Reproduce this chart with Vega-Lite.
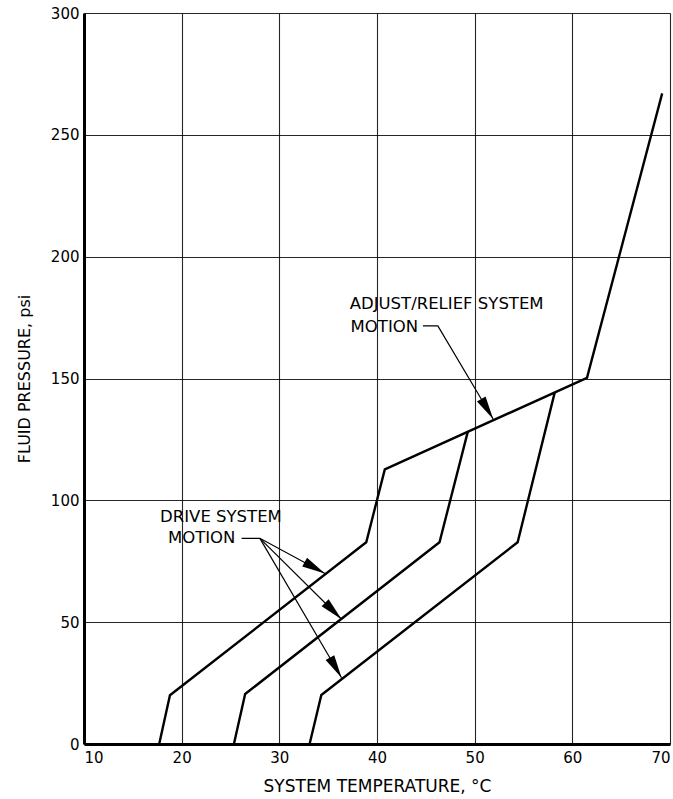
{
  "$schema": "https://vega.github.io/schema/vega-lite/v6.json",
  "width": 586,
  "height": 731,
  "autosize": "none",
  "padding": {"left": 84, "top": 13, "right": 3, "bottom": 55},
  "background": "white",
  "config": {"view": {"stroke": null}, "font": "DejaVu Sans"},
  "datasets": {
    "curves": [
      {"series": "c1", "ord": 1, "temp": 17.7, "psi": 0},
      {"series": "c1", "ord": 2, "temp": 18.8, "psi": 20},
      {"series": "c1", "ord": 3, "temp": 38.9, "psi": 82.8},
      {"series": "c1", "ord": 4, "temp": 40.8, "psi": 112.7},
      {"series": "c1", "ord": 5, "temp": 61.5, "psi": 150.3},
      {"series": "c1", "ord": 6, "temp": 69.2, "psi": 267},
      {"series": "c2", "ord": 1, "temp": 25.35, "psi": 0},
      {"series": "c2", "ord": 2, "temp": 26.5, "psi": 20.5},
      {"series": "c2", "ord": 3, "temp": 46.4, "psi": 82.8},
      {"series": "c2", "ord": 4, "temp": 49.3, "psi": 128.2},
      {"series": "c3", "ord": 1, "temp": 33.1, "psi": 0},
      {"series": "c3", "ord": 2, "temp": 34.3, "psi": 20.1},
      {"series": "c3", "ord": 3, "temp": 54.4, "psi": 82.8},
      {"series": "c3", "ord": 4, "temp": 58.2, "psi": 144.3}
    ],
    "leaders": [
      {"series": "d1", "ord": 1, "temp": 26.14, "psi": 84.4},
      {"series": "d1", "ord": 2, "temp": 28.01, "psi": 84.4},
      {"series": "d1", "ord": 3, "temp": 34.67, "psi": 70.0},
      {"series": "d2", "ord": 1, "temp": 28.01, "psi": 84.4},
      {"series": "d2", "ord": 2, "temp": 36.37, "psi": 51.2},
      {"series": "d3", "ord": 1, "temp": 28.01, "psi": 84.4},
      {"series": "d3", "ord": 2, "temp": 36.37, "psi": 27.2},
      {"series": "a1", "ord": 1, "temp": 44.7, "psi": 171.6},
      {"series": "a1", "ord": 2, "temp": 46.23, "psi": 171.6},
      {"series": "a1", "ord": 3, "temp": 51.89, "psi": 133.4}
    ],
    "labels": [
      {"text": "DRIVE SYSTEM", "temp": 24.02, "psi": 93.0},
      {"text": "MOTION", "temp": 22.05, "psi": 84.6},
      {"text": "ADJUST/RELIEF SYSTEM", "temp": 47.13, "psi": 180.6},
      {"text": "MOTION", "temp": 40.75, "psi": 171.2}
    ]
  },
  "encoding": {
    "x": {
      "field": "temp", "type": "quantitative",
      "scale": {"domain": [10, 70], "nice": false, "zero": false},
      "axis": {
        "title": "SYSTEM TEMPERATURE, °C",
        "values": [10, 20, 30, 40, 50, 60, 70],
        "grid": true, "gridColor": "black", "gridWidth": 1.1, "gridOpacity": 0.85,
        "domainColor": "black", "domainWidth": 3,
        "ticks": false, "labelPadding": 6,
        "labelFontSize": 15, "labelColor": "black",
        "titleFontSize": 17, "titleFontWeight": "normal", "titleColor": "black", "titlePadding": 13
      }
    },
    "y": {
      "field": "psi", "type": "quantitative",
      "scale": {"domain": [0, 300], "nice": false},
      "axis": {
        "title": "FLUID PRESSURE, psi",
        "values": [0, 50, 100, 150, 200, 250, 300],
        "grid": true, "gridColor": "black", "gridWidth": 1.1, "gridOpacity": 0.85,
        "domainColor": "black", "domainWidth": 3,
        "ticks": false, "labelPadding": 5,
        "labelFontSize": 15, "labelColor": "black",
        "titleFontSize": 16, "titleFontWeight": "normal", "titleColor": "black", "titlePadding": 18
      }
    }
  },
  "layer": [
    {
      "data": {"name": "curves"},
      "mark": {"type": "line", "color": "black", "strokeWidth": 2.4},
      "encoding": {"detail": {"field": "series"}, "order": {"field": "ord"}}
    },
    {
      "data": {"name": "leaders"},
      "mark": {"type": "line", "color": "black", "strokeWidth": 1.2},
      "encoding": {"detail": {"field": "series"}, "order": {"field": "ord"}}
    },
    {
      "data": {"values": [{"temp": 34.67, "psi": 70.0}]},
      "mark": {"type": "point", "shape": "M0,0 L-0.3,1.4 L0.3,1.4 Z", "filled": true, "color": "black", "opacity": 1, "size": 1100, "angle": 119}
    },
    {
      "data": {"values": [{"temp": 36.37, "psi": 51.2}]},
      "mark": {"type": "point", "shape": "M0,0 L-0.3,1.4 L0.3,1.4 Z", "filled": true, "color": "black", "opacity": 1, "size": 1100, "angle": 135}
    },
    {
      "data": {"values": [{"temp": 36.37, "psi": 27.2}]},
      "mark": {"type": "point", "shape": "M0,0 L-0.3,1.4 L0.3,1.4 Z", "filled": true, "color": "black", "opacity": 1, "size": 1100, "angle": 150}
    },
    {
      "data": {"values": [{"temp": 51.89, "psi": 133.4}]},
      "mark": {"type": "point", "shape": "M0,0 L-0.3,1.4 L0.3,1.4 Z", "filled": true, "color": "black", "opacity": 1, "size": 1100, "angle": 149.3}
    },
    {
      "data": {"name": "labels"},
      "mark": {"type": "text", "fontSize": 16.5, "fontWeight": "normal", "color": "black", "align": "center", "baseline": "middle"},
      "encoding": {"text": {"field": "text"}}
    }
  ]
}
